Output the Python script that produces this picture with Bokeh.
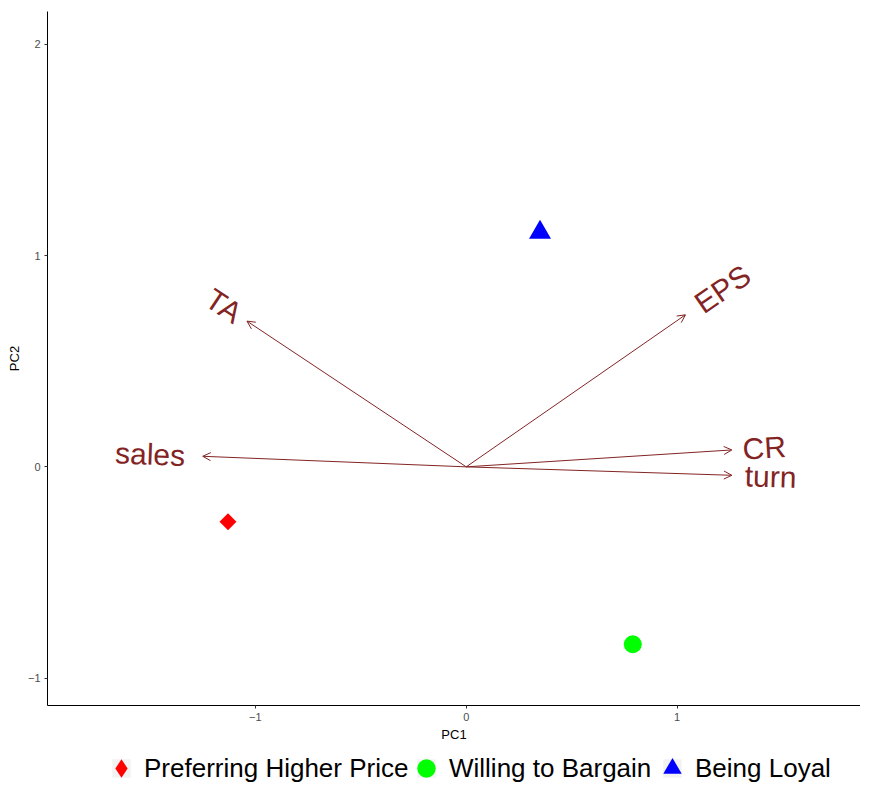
import numpy as np
from bokeh.plotting import figure
from bokeh.layouts import column
from bokeh.models import ColumnDataSource, Arrow, OpenHead, Legend, LegendItem, FixedTicker, Range1d
from bokeh.core.properties import value
from bokeh.embed import file_html
from bokeh.resources import INLINE

# ---------------- data ----------------
group_names = ["Preferring Higher Price", "Willing to Bargain", "Being Loyal"]
group_pc1 = [-1.13, 0.79, 0.35]
group_pc2 = [-0.26, -0.84, 1.11]

var_names = ["TA", "EPS", "sales", "CR", "turn"]
var_pc1 = [-1.04, 1.04, -1.25, 1.26, 1.26]
var_pc2 = [0.69, 0.72, 0.05, 0.08, -0.04]

x_ticks = [-1, 0, 1]
y_ticks = [-1, 0, 1, 2]

# ---------------- style ----------------
FONT = "Liberation Sans"
VAR_COLOR = "#832424"
LABEL_SIZE = 30
GROUP_COLORS = ["#FF0000", "#00FF00", "#0000FF"]
KEY_BG = "#F2F2F2"
W_FIG = 860

p = figure(width=W_FIG, height=744, output_backend="svg", toolbar_location=None,
           x_range=Range1d(-1.986, 1.870), y_range=Range1d(-1.130, 2.156),
           min_border_left=47, min_border_right=0, min_border_top=11, min_border_bottom=38)
p.outline_line_color = None
p.xgrid.grid_line_color = None
p.ygrid.grid_line_color = None

for ax, ticks, lab in ((p.xaxis[0], x_ticks, "PC1"), (p.yaxis[0], y_ticks, "PC2")):
    ax.ticker = FixedTicker(ticks=ticks)
    ax.axis_label = lab
    ax.axis_label_text_font = FONT
    ax.axis_label_text_font_size = "13px"
    ax.axis_label_text_font_style = "normal"
    ax.axis_label_text_color = "#000000"
    ax.axis_label_standoff = 3
    ax.major_label_text_font = FONT
    ax.major_label_text_font_size = "11px"
    ax.major_label_text_color = "#4D4D4D"
    ax.major_label_standoff = 4
    ax.axis_line_color = "#000000"
    ax.axis_line_width = 1
    ax.major_tick_line_color = "#333333"
    ax.major_tick_in = 0
    ax.major_tick_out = 3
    ax.minor_tick_line_color = None

# ---------------- arrows ----------------
arrow_src = ColumnDataSource(dict(x0=[0.0] * len(var_names), y0=[0.0] * len(var_names),
                                  x1=var_pc1, y1=var_pc2))
p.add_layout(Arrow(end=OpenHead(size=8, line_color=VAR_COLOR, line_width=1),
                   x_start="x0", y_start="y0", x_end="x1", y_end="y1",
                   source=arrow_src, line_color=VAR_COLOR, line_width=1))

# label placement like ggbiplot (varname.adjust = 1.5 -> gap of a quarter text width)
W = {"T": .611, "A": .667, "E": .667, "P": .667, "S": .667, "s": .5, "a": .556, "l": .222,
     "e": .556, "C": .722, "R": .722, "t": .278, "u": .556, "r": .333, "n": .556}
pos = dict(x=[], y=[], text=[], angle=[], xo=[], yo=[])
neg = dict(x=[], y=[], text=[], angle=[], xo=[], yo=[])
for name, vx, vy in zip(var_names, var_pc1, var_pc2):
    a = float(np.arctan(vy / vx))
    width = sum(W.get(ch, 0.55) for ch in name) * LABEL_SIZE
    gap = 0.25 * width
    sgn = 1 if vx > 0 else -1
    d = pos if vx > 0 else neg
    d["x"].append(vx); d["y"].append(vy); d["text"].append(name); d["angle"].append(a)
    d["xo"].append(sgn * gap * np.cos(a)); d["yo"].append(-sgn * gap * np.sin(a))

for d, align in ((pos, "left"), (neg, "right")):
    p.text(x="x", y="y", text="text", angle="angle", x_offset="xo", y_offset="yo",
           source=ColumnDataSource(d), text_align=align, text_baseline="middle",
           text_font=value(FONT), text_font_size=f"{LABEL_SIZE}px", text_color=VAR_COLOR)

# ---------------- points ----------------
p.scatter(x=[group_pc1[0]], y=[group_pc2[0]], marker="square", angle=np.pi / 4,
          size=12, fill_color=GROUP_COLORS[0], line_color=None)
p.scatter(x=[group_pc1[1]], y=[group_pc2[1]], marker="circle", size=18,
          fill_color=GROUP_COLORS[1], line_color=None)
p.scatter(x=[group_pc1[2]], y=[group_pc2[2]], marker="triangle", size=22,
          fill_color=GROUP_COLORS[2], line_color=None)

# ---------------- legend strip ----------------
pl = figure(width=W_FIG, height=38, output_backend="svg", toolbar_location=None,
            x_axis_location=None, y_axis_location=None, min_border=0,
            x_range=Range1d(0, 1), y_range=Range1d(0, 1))
pl.outline_line_color = None
pl.xgrid.grid_line_color = None
pl.ygrid.grid_line_color = None

nan_src = ColumnDataSource(dict(x=[np.nan], y=[np.nan]))
key_bg = pl.scatter(x="x", y="y", source=nan_src, marker="square",
                    fill_color=KEY_BG, line_color=None)
key_markers = ["diamond", "circle", "triangle"]
legend_x = [51, 356, 602]
for name, mk, col, lx in zip(group_names, key_markers, GROUP_COLORS, legend_x):
    r = pl.scatter(x="x", y="y", source=nan_src, marker=mk, fill_color=col, line_color=None)
    leg = Legend(items=[LegendItem(label=name, renderers=[key_bg, r])],
                 location=(lx, -9), orientation="horizontal",
                 glyph_width=46, glyph_height=46, label_standoff=0,
                 padding=0, margin=0, spacing=0,
                 border_line_color=None, background_fill_alpha=0,
                 label_text_font=FONT, label_text_font_size="26px",
                 label_text_color="#000000", label_text_baseline="middle")
    pl.add_layout(leg)

layout = column(p, pl, spacing=0)
open("out.html", "w").write(file_html(layout, INLINE))
